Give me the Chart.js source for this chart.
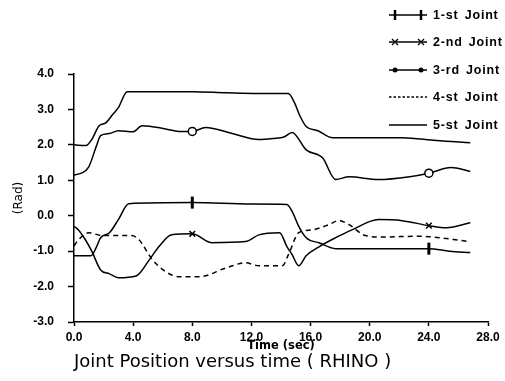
<!DOCTYPE html>
<html>
<head>
<meta charset="utf-8">
<script src="https://cdn.jsdelivr.net/npm/chart.js@4/dist/chart.umd.min.js"></script>
<style>
  body { margin: 0; background: #fff; }
  #wrap { position: relative; width: 505px; height: 381px; overflow: hidden; }
  #legend { position: absolute; left: 388px; top: 0; width: 117px; overflow: hidden; height: 140px; }
  .row { position: absolute; left: 0; height: 14px; white-space: nowrap; }
  .row svg { position: absolute; left: 0; top: 0; }
  .row span { position: absolute; left: 45px; top: 0; font: bold 12.5px "Liberation Sans", Arial, sans-serif; letter-spacing: 0.8px; word-spacing: 2px; line-height: 14px; color: #000; }
</style>
</head>
<body>
<div id="wrap">
  <canvas id="myChart" width="505" height="381"></canvas>
  <div id="legend"></div>
</div>
<script>
// values //

var legendNames = ["1-st Joint", "2-nd Joint", "3-rd Joint", "4-st Joint", "5-st Joint"];
var xTicks = [0, 4, 8, 12, 16, 20, 24, 28];
var markTimes = [8, 24];

var joint1Time = [0, 1.15, 1.5, 1.8, 2.4, 3.0, 3.7, 8, 12, 14.4, 14.8, 15.2, 15.7, 16.6, 17.7, 20, 24, 25.4, 26.8];
var joint1Rad  = [-1.13, -1.13, -0.9, -0.62, -0.48, -0.11, 0.34, 0.37, 0.33, 0.32, 0.08, -0.3, -0.62, -0.77, -0.93, -0.93, -0.93, -1.0, -1.04];

var joint2Time = [0, 0.3, 0.8, 1.2, 1.8, 2.4, 3.0, 4.2, 5.1, 5.75, 6.6, 8, 9.3, 11.6, 12.5, 13.9, 14.4, 14.75, 15.2, 15.7, 16.6, 17.7, 18.8, 20.6, 22.2, 24, 25.2, 26.8];
var joint2Rad  = [-0.3, -0.4, -0.7, -1.0, -1.53, -1.64, -1.75, -1.7, -1.24, -0.87, -0.54, -0.51, -0.76, -0.73, -0.54, -0.48, -0.87, -1.1, -1.41, -1.13, -0.87, -0.62, -0.4, -0.11, -0.14, -0.28, -0.34, -0.2];

var joint3Time = [0, 0.5, 1.0, 1.5, 1.8, 2.4, 3.0, 4.0, 4.6, 6.2, 7.1, 8, 8.9, 10.7, 12.5, 13.5, 14.2, 14.75, 15.7, 16.8, 17.7, 18.6, 20.6, 22.7, 24, 25.5, 26.8];
var joint3Rad  = [1.15, 1.2, 1.38, 1.95, 2.26, 2.32, 2.4, 2.37, 2.54, 2.45, 2.38, 2.38, 2.49, 2.32, 2.15, 2.18, 2.22, 2.35, 1.86, 1.64, 1.02, 1.1, 1.02, 1.1, 1.2, 1.36, 1.25];

var joint4Time = [0, 0.3, 1.0, 1.9, 3.9, 4.4, 5.3, 6.2, 7.1, 8.5, 10.3, 11.6, 12.5, 14.1, 14.5, 15.2, 16.1, 17.25, 17.9, 18.6, 19.7, 20.8, 23.3, 26.8];
var joint4Rad  = [-0.85, -0.68, -0.48, -0.56, -0.56, -0.68, -1.24, -1.58, -1.72, -1.72, -1.47, -1.33, -1.41, -1.41, -1.1, -0.48, -0.4, -0.25, -0.14, -0.25, -0.56, -0.6, -0.58, -0.73];

var joint5Time = [0, 0.8, 1.2, 1.7, 2.15, 2.6, 3.0, 3.6, 8, 10.3, 12.5, 14.5, 14.9, 15.3, 15.7, 16.5, 17.5, 20, 22.2, 24.5, 26.8];
var joint5Rad  = [2.0, 1.98, 2.15, 2.54, 2.62, 2.85, 3.05, 3.5, 3.5, 3.47, 3.45, 3.45, 3.2, 2.8, 2.52, 2.4, 2.2, 2.2, 2.2, 2.12, 2.06];

function toPoints(ts, vs) {
  return ts.map(function (t, i) { return { x: t, y: vs[i] }; });
}

function markRadius(r) {
  return function (ctx) {
    return markTimes.indexOf(ctx.raw.x) >= 0 ? r : 0;
  };
}

// every line is plain black
function lineSet(label, pts, extra) {
  var ds = {
    label: label, data: pts,
    borderColor: '#000', backgroundColor: '#000',
    pointBorderColor: '#000', pointBackgroundColor: '#000',
    borderWidth: 1.5, pointRadius: 0, pointHoverRadius: 0,
    cubicInterpolationMode: 'monotone', fill: false
  };
  for (var k in extra) ds[k] = extra[k];
  return ds;
}

var tickFont = { family: "'Liberation Sans', Arial, sans-serif", size: 12, weight: 'bold' };

var ctx = document.getElementById("myChart").getContext('2d');
var myChart = new Chart(ctx, {
  type: 'line',
  data: {
    datasets: [
      lineSet(legendNames[0], toPoints(joint1Time, joint1Rad), { pointStyle: 'line', rotation: 90, pointRadius: markRadius(6), pointBorderWidth: 3 }),
      lineSet(legendNames[1], toPoints(joint2Time, joint2Rad), { pointStyle: 'crossRot', pointRadius: markRadius(4), pointBorderWidth: 1.5 }),
      lineSet(legendNames[2], toPoints(joint3Time, joint3Rad), { pointStyle: 'circle', pointRadius: markRadius(4), pointBorderWidth: 1.5, pointBackgroundColor: '#fff' }),
      lineSet(legendNames[3], toPoints(joint4Time, joint4Rad), { borderDash: [5, 4] }),
      lineSet(legendNames[4], toPoints(joint5Time, joint5Rad), {})
    ]
  },
  options: {
    responsive: false,
    animation: false,
    parsing: false,
    layout: { padding: { left: 8, right: 17, top: 74, bottom: 0 } },
    plugins: {
      colors: { enabled: false },
      legend: { display: false },
      tooltip: { enabled: false },
      title: {
        display: true,
        position: 'bottom',
        align: 'start',
        fullSize: false,
        text: 'Joint Position versus time ( RHINO )',
        color: '#000',
        font: { family: "'DejaVu Sans', sans-serif", size: 18, weight: 'normal', lineHeight: 1 },
        padding: { top: 0, bottom: 10 }
      }
    },
    scales: {
      x: {
        type: 'linear', min: 0, max: 28,
        afterBuildTicks: function (s) { s.ticks = xTicks.map(function (v) { return { value: v }; }); },
        ticks: { callback: function (v) { return v.toFixed(1); }, font: tickFont, color: '#000', padding: 4, maxRotation: 0 },
        grid: { drawOnChartArea: false, color: '#000', tickLength: 4, tickWidth: 1.5 },
        border: { color: '#000', width: 1.5 },
        title: { display: true, text: 'Time (sec)', color: '#000', font: { family: "'DejaVu Sans', sans-serif", size: 11.5, weight: 'bold', lineHeight: 1 }, padding: { top: 0, bottom: 1 } },
        afterFit: function (s) { s.height = 31; }
      },
      y: {
        min: -3, max: 4,
        ticks: { stepSize: 1, callback: function (v) { return v.toFixed(1); }, font: tickFont, color: '#000', padding: 14 },
        grid: { drawOnChartArea: false, color: '#000', tickLength: 6, tickWidth: 1.5 },
        border: { color: '#000', width: 1.5 },
        title: { display: true, text: '(Rad)', color: '#000', font: { family: "'DejaVu Sans', sans-serif", size: 12 }, padding: { top: 4, bottom: 0 } },
        afterFit: function (s) { s.width = 66; }
      }
    }
  }
});

// html legend, top right //

var rowTops = [8, 35, 63, 90, 118];
var markers = [
  '<line x1="7" y1="2" x2="7" y2="12" stroke="#000" stroke-width="2.5"/><line x1="33" y1="2" x2="33" y2="12" stroke="#000" stroke-width="2.5"/>',
  '<path d="M4 4 L10 10 M10 4 L4 10 M30 4 L36 10 M36 4 L30 10" stroke="#000" stroke-width="1.3"/>',
  '<circle cx="7" cy="7" r="2.5" fill="#000"/><circle cx="33" cy="7" r="2.5" fill="#000"/>',
  '',
  ''
];
var html = '';
legendNames.forEach(function (name, i) {
  var dash = i === 3 ? ' stroke-dasharray="2.5,2"' : '';
  html += '<div class="row" style="top:' + rowTops[i] + 'px">' +
    '<svg width="40" height="14"><line x1="1" y1="7" x2="39" y2="7" stroke="#000" stroke-width="1.5"' + dash + '/>' + markers[i] + '</svg>' +
    '<span>' + name + '</span></div>';
});
document.getElementById("legend").innerHTML = html;
</script>
</body>
</html>
